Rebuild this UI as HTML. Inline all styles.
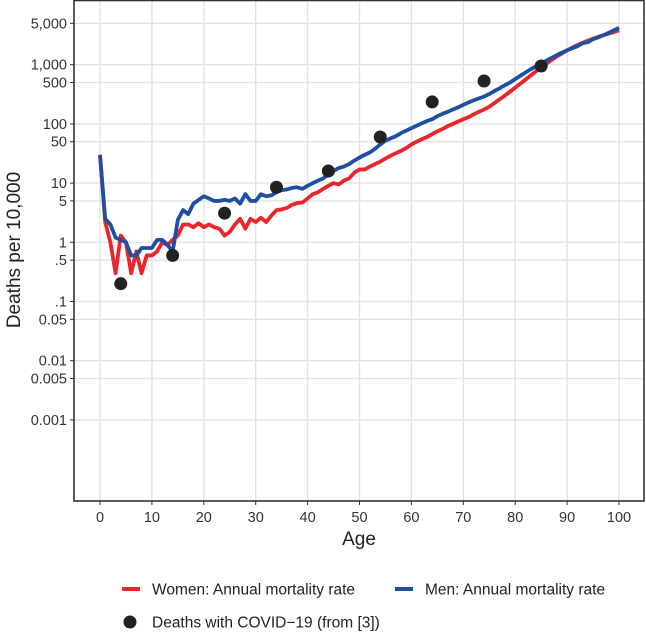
<!DOCTYPE html>
<html><head><meta charset="utf-8"><style>
body{margin:0;background:#fff;font-family:"Liberation Sans",sans-serif}
</style></head><body>
<svg id="c" width="646" height="633" xmlns="http://www.w3.org/2000/svg" style="font-family:'Liberation Sans',sans-serif">
<g id="grid"></g>
<g id="lines"></g>
<g id="dots"></g>
<rect x="74" y="0.5" width="570" height="500.5" fill="none" stroke="#333" stroke-width="1.6"/>
<g id="axes"></g>
<text x="359" y="545" font-size="19" text-anchor="middle" fill="#222">Age</text>
<text transform="translate(20,250) rotate(-90)" font-size="19" text-anchor="middle" fill="#222">Deaths per 10,000</text>
<g>
<line x1="122" y1="589" x2="140" y2="589" stroke="#e8262c" stroke-width="4"/>
<text x="152" y="594.5" font-size="15.5" fill="#222">Women: Annual mortality rate</text>
<line x1="395" y1="589" x2="413" y2="589" stroke="#1f4ea3" stroke-width="4"/>
<text x="425" y="594.5" font-size="15.5" fill="#222">Men: Annual mortality rate</text>
<circle cx="130" cy="622" r="6.5" fill="#222"/>
<text x="152" y="627.5" font-size="15.5" fill="#222">Deaths with COVID−19 (from [3])</text>
</g>
</svg>
<script>
const women=[30,2.2,1.0,0.3,1.3,1.0,0.3,0.7,0.3,0.6,0.6,0.7,1.0,0.9,1.1,1.3,2.0,2.0,1.8,2.1,1.8,2.0,1.8,1.7,1.3,1.5,2.0,2.5,1.7,2.5,2.2,2.6,2.2,2.8,3.5,3.6,3.8,4.3,4.6,4.7,5.5,6.5,7,8,9,10,9.5,11,12,15,17,17,19,21,23,26,29,32,35,39,45,50,55,60,67,75,82,92,100,110,120,130,145,160,175,195,225,260,300,350,410,480,560,660,770,900,1040,1200,1380,1550,1750,1950,2150,2350,2550,2750,2950,3150,3350,3550,3800];
const men=[30,2.5,2.0,1.2,1.1,1.0,0.6,0.6,0.8,0.8,0.8,1.1,1.1,0.9,0.7,2.4,3.5,3.0,4.5,5.2,6,5.5,5,5,5.2,5,5.5,4.5,6.5,5,5,6.5,6,6.2,7,7.6,7.8,8.3,8.5,8,9,10,11,12,14,16,18,19,21,24,27,30,33,38,45,52,57,62,70,77,85,93,102,112,120,135,148,160,175,190,210,230,250,270,290,320,360,400,450,500,570,650,740,840,940,1050,1170,1300,1450,1600,1750,1900,2050,2300,2400,2700,2900,3150,3450,3800,4200];
const covidAges=[4,14,24,34,44,54,64,74,85];
const covidVals=[0.2,0.6,3.1,8.5,16,60,235,530,950];
const yTicks=[5000,1000,500,100,50,10,5,1,0.5,0.1,0.05,0.01,0.005,0.001];
const yLabels=["5,000","1,000","500","100","50","10","5","1",".5",".1","0.05","0.01","0.005","0.001"];
const xTicks=[0,10,20,30,40,50,60,70,80,90,100];
const NS="http://www.w3.org/2000/svg";
function X(a){return 100+5.19*a;}
function Y(v){return 242.3-59.2*Math.log10(v);}
function mk(t,at,p){const e=document.createElementNS(NS,t);for(const k in at)e.setAttribute(k,at[k]);p.appendChild(e);return e;}
const grid=document.getElementById('grid'),axes=document.getElementById('axes');
yTicks.forEach((v,i)=>{
 const g=mk('line',{x1:74,x2:644,y1:Y(v),y2:Y(v),stroke:'#e3e3e3','stroke-width':1.4},grid);
 
 
 const t=mk('line',{x1:70,x2:74,y1:Y(v),y2:Y(v),stroke:'#333','stroke-width':1},axes);
 
 
 const l=mk('text',{x:67,y:Y(v)+5,'font-size':14.5,'text-anchor':'end',fill:'#333'},axes);
 l.textContent=yLabels[i];
 
 
});
xTicks.forEach(a=>{
 const g=mk('line',{x1:X(a),x2:X(a),y1:0,y2:501,stroke:'#e3e3e3','stroke-width':1.4},grid);
 
 
 const t=mk('line',{x1:X(a),x2:X(a),y1:501,y2:505,stroke:'#333','stroke-width':1},axes);
 
 
 const l=mk('text',{x:X(a),y:522,'font-size':14.5,'text-anchor':'middle',fill:'#333'},axes);
 l.textContent=a;
 
 
});
const lines=document.getElementById('lines');
[[women,'#e8262c','women-line'],[men,'#1f4ea3','men-line']].forEach(([d,c,n])=>{
 const p=mk('polyline',{points:d.map((v,i)=>X(i)+','+Y(v)).join(' '),fill:'none',stroke:c,'stroke-width':3.8,'stroke-linejoin':'round'},lines);
 
 
});
const dots=document.getElementById('dots');
covidAges.forEach((a,i)=>{
 const c=mk('circle',{cx:X(a),cy:Y(covidVals[i]),r:6.5,fill:'#222'},dots);
 
 
});
</script>
</body></html>
